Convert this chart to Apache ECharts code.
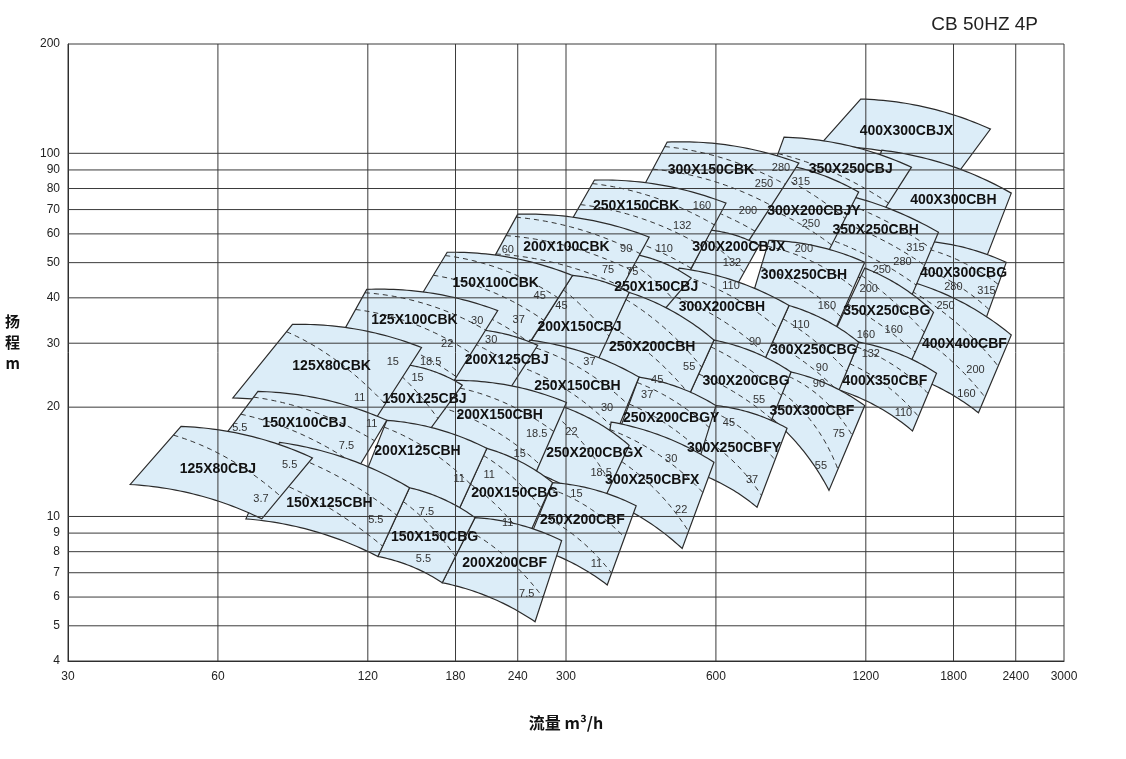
<!DOCTYPE html>
<html>
<head>
<meta charset="utf-8">
<title>CB 50HZ 4P</title>
<script src="https://cdn.jsdelivr.net/npm/echarts@6/dist/echarts.min.js"></script>
<style>
  html, body { margin: 0; padding: 0; background: #fff; }
  #main { width: 1126px; height: 759px; }
</style>
</head>
<body>
<div id="main"></div>
<script>
// axis ticks (log scales)
var xTicks = [30, 60, 120, 180, 240, 300, 600, 1200, 1800, 2400, 3000];
var yTicks = [4, 5, 6, 7, 8, 9, 10, 20, 30, 40, 50, 60, 70, 80, 90, 100, 200];

// pump ranges, corners as [flow m3/h, head m]
var tileNames = ['125X80CBJ', '150X125CBH', '150X150CBG', '200X200CBF', '150X100CBJ', '200X125CBH', '200X150CBG', '250X200CBF',
  '125X80CBK', '150X125CBJ', '200X150CBH', '250X200CBGX', '300X250CBFX', '125X100CBK', '200X125CBJ', '250X150CBH',
  '250X200CBGY', '300X250CBFY', '150X100CBK', '200X150CBJ', '250X200CBH', '300X200CBG', '350X300CBF', '200X100CBK',
  '250X150CBJ', '300X200CBH', '300X250CBG', '400X350CBF', '250X150CBK', '300X200CBJX', '300X250CBH', '350X250CBG',
  '400X400CBF', '300X150CBK', '300X200CBJY', '350X250CBH', '400X300CBG', '350X250CBJ', '400X300CBH', '400X300CBJX'];

var tileTL = [[50.6, 17.7], [79.8, 16.0], [145.5, 12.0], [197, 9.93], [72.2, 22.1], [131, 18.4], [208, 15.4], [282, 12.4],
  [84.7, 33.8], [145.5, 26.1], [178.9, 23.7], [291, 20.2], [369.6, 18.2], [119.4, 42.2], [191.8, 32.8], [253.7, 30.6],
  [420.6, 24.2], [600.2, 20.2], [173.2, 53.4], [309.1, 46.1], [401.7, 41.4], [594.7, 30.6], [849.2, 25.0], [240, 68.0],
  [420.6, 52.4], [506.3, 48.3], [841.3, 38.1], [1161, 30.2], [342.2, 84.4], [586.5, 61.4], [767, 57.6], [1194, 48.3],
  [1496, 44.1], [479, 107.4], [767, 94.6], [922.3, 80.2], [1496, 57.6], [822.2, 110.8], [1292, 102.0], [1172, 141.1]];

var tileTR = [[92.9, 14.5], [145.5, 12.0], [197, 9.93], [294, 8.58], [131, 18.4], [208, 15.4], [282, 12.4], [415, 10.7],
  [153.8, 29.2], [185.7, 23.0], [300.6, 20.6], [401.7, 15.7], [594.7, 14.1], [218.8, 36.9], [263.2, 29.6], [420.6, 24.2],
  [600.2, 20.2], [833.6, 17.5], [309.1, 46.1], [401.7, 41.4], [594.7, 30.6], [849.2, 25.0], [1194, 20.2], [440.7, 58.8],
  [535.2, 45.3], [841.3, 38.1], [1161, 30.2], [1664, 24.8], [628.6, 72.9], [732.4, 55.8], [1194, 50.1], [1641, 36.5],
  [2351, 31.6], [880.5, 94.0], [1161, 78.2], [1679, 60.6], [2297, 50.1], [1482, 91.6], [2351, 77.7], [2135, 116.6]];

var tileBR = [[73.5, 9.85], [125.7, 7.76], [169.3, 6.57], [260, 5.13], [111.4, 12.7], [178.9, 9.79], [242.2, 7.81], [363, 6.48],
  [121, 17.5], [158.1, 17.0], [259.6, 13.0], [349.6, 10.4], [513.4, 8.16], [174.8, 22.5], [229.2, 22.0], [369.6, 15.7],
  [554.8, 14.27], [725.7, 10.6], [247.9, 28.7], [343.8, 26.1], [515.8, 19.9], [760, 17.2], [1012, 11.8], [383.5, 41.4],
  [465.9, 36.3], [732.4, 25.0], [1040, 20.9], [1489, 17.2], [525.4, 46.1], [652.3, 41.9], [1030, 31.6], [1476, 26.6],
  [2020, 19.3], [683.2, 54.8], [993, 51.4], [1476, 39.9], [2067, 33.6], [1298, 68.9], [2039, 47.0], [1842, 88.7]];

var tileBL = [[40.0, 12.25], [68.3, 9.85], [125.7, 7.76], [169.3, 6.57], [59.2, 15.4], [115.6, 11.95], [178.9, 9.79], [250, 8.32],
  [64.3, 21.2], [121.1, 18.4], [156, 16.2], [259.6, 13.2], [349.6, 11.3], [100.5, 27.6], [176.5, 23.1], [229.2, 22.0],
  [383.5, 17.2], [530.2, 13.4], [144.2, 35.2], [250.2, 29.1], [343.8, 26.6], [515.8, 19.9], [774.2, 18.7], [205.5, 46.1],
  [366.2, 39.4], [451, 33.4], [732.4, 25.0], [1059, 22.3], [284.4, 54.1], [520.6, 44.7], [705.8, 39.4], [1021, 30.6],
  [1396, 25.0], [383.5, 60.6], [683.2, 55.8], [861, 49.2], [1396, 41.9], [749.5, 78.2], [1135, 63.4], [965.9, 104.7]];

// motor power borders inside each range: [start on left edge, end on right edge] as fractions of edge height
var tileDash = [[[0.15, 0.63]], [[0.1, 0.4], [0.45, 0.85]], [[0.2, 0.6]], [[0.2, 0.7]], [[0.1, 0.35], [0.4, 0.8]],
  [[0.1, 0.5]], [[0.1, 0.35], [0.5, 0.8]], [[0.1, 0.4], [0.5, 0.85]], [[0.1, 0.7]], [[0.2, 0.7]],
  [[0.1, 0.4], [0.45, 0.85]], [[0.15, 0.6]], [[0.1, 0.35], [0.4, 0.8]], [[0.05, 0.25], [0.3, 0.55], [0.6, 0.85]], [[0.2, 0.6]],
  [[0.1, 0.4], [0.5, 0.8]], [[0.1, 0.4], [0.5, 0.85]], [[0.1, 0.4], [0.5, 0.85]], [[0.05, 0.3], [0.35, 0.6], [0.65, 0.9]], [[0.2, 0.6]],
  [[0.1, 0.4], [0.5, 0.8]], [[0.1, 0.4], [0.5, 0.8]], [[0.1, 0.35], [0.45, 0.75]], [[0.05, 0.3], [0.35, 0.6], [0.65, 0.9]], [[0.2, 0.6]],
  [[0.1, 0.35], [0.45, 0.75]], [[0.2, 0.5], [0.55, 0.85]], [[0.1, 0.35], [0.45, 0.75]], [[0.05, 0.3], [0.35, 0.6], [0.65, 0.9]], [[0.2, 0.6]],
  [[0.1, 0.35], [0.45, 0.75]], [[0.1, 0.4], [0.5, 0.8]], [[0.1, 0.4], [0.5, 0.8]], [[0.05, 0.25], [0.3, 0.5], [0.55, 0.8]], [[0.1, 0.4], [0.5, 0.8]],
  [[0.05, 0.25], [0.3, 0.5], [0.55, 0.8]], [[0.1, 0.35], [0.45, 0.75]], [[0.3, 0.8]], [], []];

// where the model name sits, [flow, head]
var nameAt = [[60.0, 13.5], [100.5, 10.9], [163.4, 8.75], [226, 7.43], [89.5, 18.1], [151, 15.1], [236.7, 11.6], [323.7, 9.79],
  [101.5, 25.9], [156, 21.0], [220.8, 19.0], [342.2, 14.9], [446.9, 12.6], [148.9, 34.7], [228.1, 26.9], [316.3, 22.8],
  [487.9, 18.7], [652.3, 15.4], [216.8, 43.8], [319.2, 33.2], [446.9, 29.2], [689.5, 23.6], [935.1, 19.5], [300.6, 55.1],
  [455.2, 42.8], [617.1, 37.6], [943.8, 28.7], [1310, 23.6], [414.9, 71.5], [667.5, 55.1], [901.1, 46.1], [1322, 36.7],
  [1893, 29.8], [586.5, 89.9], [943.8, 69.3], [1256, 61.4], [1885, 46.7], [1119, 90.4], [1799, 74.3], [1448, 115.1]];

// motor power (kW) labels: [text, flow, head]
var kwLabels = [
  ['5.5', 83.6, 13.9], ['3.7', 73.2, 11.2], ['5.5', 124.5, 9.79], ['7.5', 157.4, 10.3], ['5.5', 155.2, 7.66],
  ['7.5', 250.2, 6.13], ['5.5', 66.4, 17.5], ['7.5', 108.7, 15.6], ['11', 122.2, 18.0], ['11', 183.1, 12.7],
  ['11', 210.3, 13.0], ['11', 229.2, 9.61], ['15', 314.8, 11.5], ['11', 345.3, 7.38], ['15', 134.7, 26.6],
  ['11', 115.6, 21.2], ['15', 151, 24.0], ['18.5', 262, 16.9], ['15', 242.2, 14.9], ['22', 307.6, 17.1],
  ['18.5', 352.9, 13.2], ['30', 487.9, 14.4], ['22', 511.1, 10.45], ['30', 199, 34.5], ['22', 173.2, 29.8],
  ['18.5', 160.4, 26.6], ['30', 212.3, 30.6], ['37', 334.3, 26.7], ['30', 362.8, 19.9], ['45', 457.4, 23.7],
  ['37', 436.7, 21.6], ['45', 637.4, 18.1], ['37', 709.1, 12.6], ['45', 265.7, 40.4], ['37', 241.1, 34.7],
  ['45', 293.7, 38.1], ['55', 530.2, 25.8], ['55', 732.4, 20.9], ['75', 1059, 16.9], ['55', 974.9, 13.8],
  ['60', 229.2, 54.1], ['90', 396.2, 54.4], ['75', 364.5, 47.6], ['75', 407.3, 47.0], ['110', 643.3, 43.0],
  ['90', 719, 30.2], ['90', 979.4, 25.6], ['90', 965.9, 23.1], ['132', 1228, 28.1], ['110', 1428, 19.3],
  ['160', 562.6, 71.5], ['132', 513.4, 63.0], ['110', 472.4, 54.4], ['132', 646.3, 49.8], ['160', 1002, 38.1],
  ['110', 888.8, 33.6], ['160', 1365, 32.6], ['160', 1200, 31.6], ['200', 1992, 25.3], ['160', 1911, 21.8],
  ['280', 810.8, 91.0], ['250', 749.5, 82.3], ['200', 696.1, 69.3], ['250', 930.8, 63.8], ['200', 901.1, 54.4],
  ['315', 1510, 54.8], ['280', 1422, 50.1], ['250', 1292, 47.6], ['200', 1216, 42.2], ['280', 1799, 42.8],
  ['315', 2096, 41.7], ['250', 1735, 38.1], ['315', 888.8, 83.3]
];

var GRID = { left: 68, top: 44, width: 996, height: 617 };
var BULGE = 0.05;
var FONT = "'Liberation Sans', Arial, sans-serif";

function lg(v) { return Math.log10(v); }

// quadratic edge bowed upward
function arc(p0, p1) {
  var dx = p1[0] - p0[0], dy = p1[1] - p0[1];
  var c = [(p0[0] + p1[0]) / 2 + dy * 2 * BULGE, (p0[1] + p1[1]) / 2 - dx * 2 * BULGE];
  return function (t) {
    var a = 1 - t;
    return [a * a * p0[0] + 2 * a * t * c[0] + t * t * p1[0], a * a * p0[1] + 2 * a * t * c[1] + t * t * p1[1]];
  };
}

// upper-right ranges are drawn first so lower-left ones sit on top
function drawKey(i) {
  var p = tileTL[i];
  return (lg(p[0]) - lg(30)) / 2 * GRID.width + (lg(p[1]) - lg(4)) / lg(50) * GRID.height;
}
var order = tileNames.map(function (n, i) { return i; }).sort(function (a, b) { return drawKey(b) - drawKey(a); });

function renderTile(params, api) {
  var i = api.value(2);
  var pt = function (p) { return api.coord([lg(p[0]), lg(p[1])]); };
  var top = arc(pt(tileTL[i]), pt(tileTR[i]));
  var bot = arc(pt(tileBL[i]), pt(tileBR[i]));
  var N = 30, pts = [], k;
  for (k = 0; k <= N; k++) pts.push(top(k / N));
  for (k = N; k >= 0; k--) pts.push(bot(k / N));
  var children = [{
    type: 'polygon',
    shape: { points: pts },
    style: { fill: '#dcedf8', stroke: '#2b2b2b', lineWidth: 1.2 }
  }];
  tileDash[i].forEach(function (d) {
    var line = [];
    for (var j = 0; j <= N; j++) {
      var u = j / N, v = d[0] + (d[1] - d[0]) * u;
      var a = top(u), b = bot(u);
      line.push([a[0] + (b[0] - a[0]) * v, a[1] + (b[1] - a[1]) * v]);
    }
    children.push({
      type: 'polyline',
      shape: { points: line },
      style: { fill: null, stroke: '#333', lineWidth: 1, lineDash: [5, 4] }
    });
  });
  return { type: 'group', children: children };
}

function renderGridLine(params, api) {
  var cs = params.coordSys;
  var kind = api.value(2);
  var p = api.coord([api.value(0), api.value(1)]);
  var shape = kind === 0
    ? { x1: p[0], y1: cs.y, x2: p[0], y2: cs.y + cs.height }
    : { x1: cs.x, y1: p[1], x2: cs.x + cs.width, y2: p[1] };
  return { type: 'line', shape: shape, style: { stroke: '#3a3a3a', lineWidth: 1 } };
}

function renderText(params, api) {
  var p = api.coord([api.value(0), api.value(1)]);
  var isName = api.value(3) === 1;
  var txt = isName ? tileNames[api.value(2)] : kwLabels[api.value(2)][0];
  return {
    type: 'text',
    x: p[0], y: p[1],
    style: {
      text: txt,
      fill: isName ? '#111' : '#333',
      font: isName ? 'bold 14px ' + FONT : '11px ' + FONT,
      align: 'center',
      verticalAlign: 'middle'
    }
  };
}

var tileData = order.map(function (i) { return [lg(tileTL[i][0]), lg(tileTL[i][1]), i]; });
var gridData = xTicks.map(function (t) { return [lg(t), lg(4), 0]; })
  .concat(yTicks.map(function (t) { return [lg(30), lg(t), 1]; }));
var textData = nameAt.map(function (p, i) { return [lg(p[0]), lg(p[1]), i, 1]; })
  .concat(kwLabels.map(function (l, i) { return [lg(l[1]), lg(l[2]), i, 0]; }));

var chart = echarts.init(document.getElementById('main'));
var option = {
  animation: false,
  title: {
    text: 'CB 50HZ 4P',
    right: 83, top: 10,
    textStyle: { fontFamily: FONT, fontSize: 19, fontWeight: 'normal', color: '#222' }
  },
  grid: { left: GRID.left, top: GRID.top, width: GRID.width, height: GRID.height },
  xAxis: {
    type: 'value',
    min: lg(30), max: lg(3000),
    name: '流量 m³/h',
    nameLocation: 'middle',
    nameGap: 54,
    nameTextStyle: { fontFamily: "'Noto Sans CJK SC', " + FONT, fontSize: 16, fontWeight: 'bold', color: '#111' },
    axisLine: { show: true, lineStyle: { color: '#222', width: 1 } },
    axisTick: { show: false },
    splitLine: { show: false },
    axisLabel: {
      customValues: xTicks.map(lg),
      formatter: function (v) { return String(Math.round(Math.pow(10, v))); },
      fontFamily: FONT, fontSize: 12, color: '#222', margin: 10
    }
  },
  yAxis: {
    type: 'value',
    min: lg(4), max: lg(200),
    name: '扬\n程\nm\n ',
    nameLocation: 'middle',
    nameRotate: 0,
    nameGap: 48,
    nameTextStyle: { fontFamily: "'Noto Sans CJK SC', " + FONT, fontSize: 15, fontWeight: 'bold', color: '#111', lineHeight: 21 },
    axisLine: { show: true, lineStyle: { color: '#222', width: 1 } },
    axisTick: { show: false },
    splitLine: { show: false },
    axisLabel: {
      customValues: yTicks.map(lg),
      formatter: function (v) { return String(Math.round(Math.pow(10, v))); },
      fontFamily: FONT, fontSize: 12, color: '#222', margin: 8
    }
  },
  series: [
    { type: 'custom', name: 'ranges', z: 2, data: tileData, renderItem: renderTile, silent: true },
    { type: 'custom', name: 'grid', z: 3, data: gridData, renderItem: renderGridLine, silent: true },
    { type: 'custom', name: 'labels', z: 4, data: textData, renderItem: renderText, silent: true }
  ]
};
chart.setOption(option);
</script>
</body>
</html>
